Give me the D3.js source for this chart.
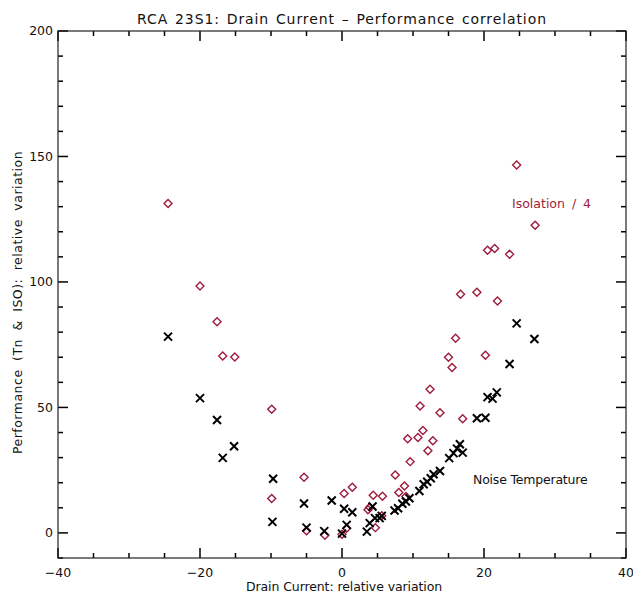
<!DOCTYPE html>
<html>
<head>
<meta charset="utf-8">
<script src="https://cdn.jsdelivr.net/npm/d3@7"></script>
<style>
  html, body { margin: 0; padding: 0; background: #fff; }
  svg { display: block; font-family: "DejaVu Sans", sans-serif; }
</style>
</head>
<body>
<svg id="chart" width="633" height="593"></svg>
<script>
// Noise temperature variation (%) vs drain current variation (%)
const noiseTemp = [
  [-24.5, 78.2], [-20.0, 53.7], [-17.6, 45.0], [-16.8, 29.9], [-15.2, 34.5],
  [-9.7, 21.6], [-9.8, 4.4], [-5.35, 11.7], [-5.0, 2.1], [-2.5, 0.7],
  [-1.45, 12.9], [0.0, -0.3], [0.3, 9.6], [0.66, 3.2], [1.45, 8.2],
  [3.5, 0.5], [3.9, 3.9], [4.3, 10.5], [4.65, 5.9], [5.3, 5.9], [5.6, 6.8],
  [7.4, 8.9], [7.9, 9.8], [8.5, 11.6], [9.0, 12.5], [9.5, 13.8],
  [10.9, 16.7], [11.5, 19.4], [12.0, 20.4], [12.5, 21.8], [12.9, 23.4],
  [13.8, 24.7], [15.1, 29.8], [15.7, 31.8], [16.2, 33.6], [16.6, 35.3],
  [17.0, 32.0], [19.0, 45.7], [20.2, 45.9], [20.5, 54.1], [21.2, 53.5],
  [21.8, 56.0], [23.6, 67.3], [24.6, 83.5], [27.1, 77.3]
];

// Isolation variation (%), divided by 4
const isolationQuarter = [
  [-24.5, 131.3], [-20.0, 98.4], [-17.6, 84.1], [-16.8, 70.5], [-15.1, 70.1],
  [-9.9, 49.3], [-9.9, 13.7], [-5.35, 22.2], [-5.0, 0.9], [-2.4, -0.9],
  [0.0, -0.5], [0.66, 1.9], [0.3, 15.7], [1.45, 18.2], [3.66, 9.2],
  [3.9, 10.2], [4.4, 15.0], [4.7, 2.1], [5.7, 14.6], [5.6, 6.8],
  [7.5, 23.1], [8.0, 16.1], [8.8, 18.7], [9.0, 14.5], [9.25, 37.5],
  [9.6, 28.4], [10.7, 38.0], [11.0, 50.6], [11.4, 40.8], [12.1, 32.7],
  [12.4, 57.2], [12.8, 36.7], [13.8, 47.9], [15.0, 70.0], [15.5, 65.9],
  [16.0, 77.6], [16.7, 95.1], [17.0, 45.5], [19.0, 95.9], [20.2, 70.8],
  [20.5, 112.6], [21.5, 113.3], [21.9, 92.4], [23.6, 111.0], [24.6, 146.6],
  [27.2, 122.6]
];

const xMajorTicks = [-40, -20, 0, 20, 40];
const xMinorTicks = d3.range(-40, 41, 5);
const yMajorTicks = [0, 50, 100, 150, 200];
const yMinorTicks = d3.range(-10, 201, 10);

const titleText = "RCA 23S1: Drain Current \u2013 Performance correlation";
const xTitle = "Drain Current: relative variation";
const yTitle = "Performance (Tn & ISO): relative variation";

const plotLeft = 58, plotRight = 626, plotTop = 31, plotBottom = 558;
const red = "#9e1c3c";
const majorLen = 10, minorLen = 5;

const svg = d3.select("#chart");
const x = d3.scaleLinear().domain([-40, 40]).range([plotLeft, plotRight]);
const y = d3.scaleLinear().domain([-10, 200]).range([plotBottom, plotTop]);

const fmt = d => (d < 0 ? "\u2212" + Math.abs(d) : String(d));

// inward tick marks on all four sides
const tickG = svg.append("g").attr("stroke", "#000").attr("stroke-width", 1.5);
const xTicks = xMinorTicks.map(v => ({ v, len: xMajorTicks.includes(v) ? majorLen : minorLen }));
const yTicks = yMinorTicks.map(v => ({ v, len: yMajorTicks.includes(v) ? majorLen : minorLen }));

tickG.selectAll(".xb").data(xTicks).join("line").attr("class", "xb")
  .attr("x1", d => x(d.v)).attr("x2", d => x(d.v))
  .attr("y1", plotBottom).attr("y2", d => plotBottom - d.len);
tickG.selectAll(".xt").data(xTicks).join("line").attr("class", "xt")
  .attr("x1", d => x(d.v)).attr("x2", d => x(d.v))
  .attr("y1", plotTop).attr("y2", d => plotTop + d.len);
tickG.selectAll(".yl").data(yTicks).join("line").attr("class", "yl")
  .attr("y1", d => y(d.v)).attr("y2", d => y(d.v))
  .attr("x1", plotLeft).attr("x2", d => plotLeft + d.len);
tickG.selectAll(".yr").data(yTicks).join("line").attr("class", "yr")
  .attr("y1", d => y(d.v)).attr("y2", d => y(d.v))
  .attr("x1", plotRight).attr("x2", d => plotRight - d.len);

// tick labels
svg.append("g").selectAll("text").data(xMajorTicks).join("text")
  .attr("x", d => x(d)).attr("y", plotBottom + 19)
  .attr("text-anchor", "middle").attr("font-size", 12.5).attr("fill", "#111")
  .text(fmt);
svg.append("g").selectAll("text").data(yMajorTicks).join("text")
  .attr("x", plotLeft - 5).attr("y", d => y(d)).attr("dy", "0.35em")
  .attr("text-anchor", "end").attr("font-size", 12.5).attr("fill", "#111")
  .text(fmt);

// plot frame
svg.append("rect")
  .attr("x", plotLeft).attr("y", plotTop)
  .attr("width", plotRight - plotLeft).attr("height", plotBottom - plotTop)
  .attr("fill", "none").attr("stroke", "#222").attr("stroke-width", 1.2);

// isolation: open diamonds
const dr = 4;
svg.append("g").selectAll("path").data(isolationQuarter).join("path")
  .attr("d", d => {
    const cx = x(d[0]), cy = y(d[1]);
    return `M${cx},${cy - dr}L${cx + dr},${cy}L${cx},${cy + dr}L${cx - dr},${cy}Z`;
  })
  .attr("fill", "none").attr("stroke", red).attr("stroke-width", 1.4);

// noise temperature: crosses
const cr = 4;
svg.append("g").selectAll("path").data(noiseTemp).join("path")
  .attr("d", d => {
    const cx = x(d[0]), cy = y(d[1]);
    return `M${cx - cr},${cy - cr}L${cx + cr},${cy + cr}M${cx - cr},${cy + cr}L${cx + cr},${cy - cr}`;
  })
  .attr("fill", "none").attr("stroke", "#000").attr("stroke-width", 2);

// titles
svg.append("text").attr("x", (plotLeft + plotRight) / 2).attr("y", 24)
  .attr("text-anchor", "middle").attr("font-size", 14).attr("fill", "#111")
  .attr("letter-spacing", 0.9).attr("word-spacing", 1.5)
  .text(titleText);
svg.append("text").attr("x", (plotLeft + plotRight) / 2 + 2).attr("y", 591)
  .attr("text-anchor", "middle").attr("font-size", 12.5).attr("fill", "#111")
  .attr("letter-spacing", -0.1)
  .text(xTitle);
svg.append("text")
  .attr("transform", `translate(22,${(plotTop + plotBottom) / 2 + 8}) rotate(-90)`)
  .attr("text-anchor", "middle").attr("font-size", 12.5).attr("fill", "#111")
  .attr("letter-spacing", 0.5).attr("word-spacing", 4)
  .text(yTitle);

// series labels
svg.append("text").attr("x", 512).attr("y", 208)
  .attr("font-size", 12.5).attr("fill", red).attr("word-spacing", 3)
  .text("Isolation / 4");
svg.append("text").attr("x", 473).attr("y", 484)
  .attr("font-size", 12.5).attr("fill", "#111").attr("letter-spacing", -0.2)
  .text("Noise Temperature");
</script>
</body>
</html>
